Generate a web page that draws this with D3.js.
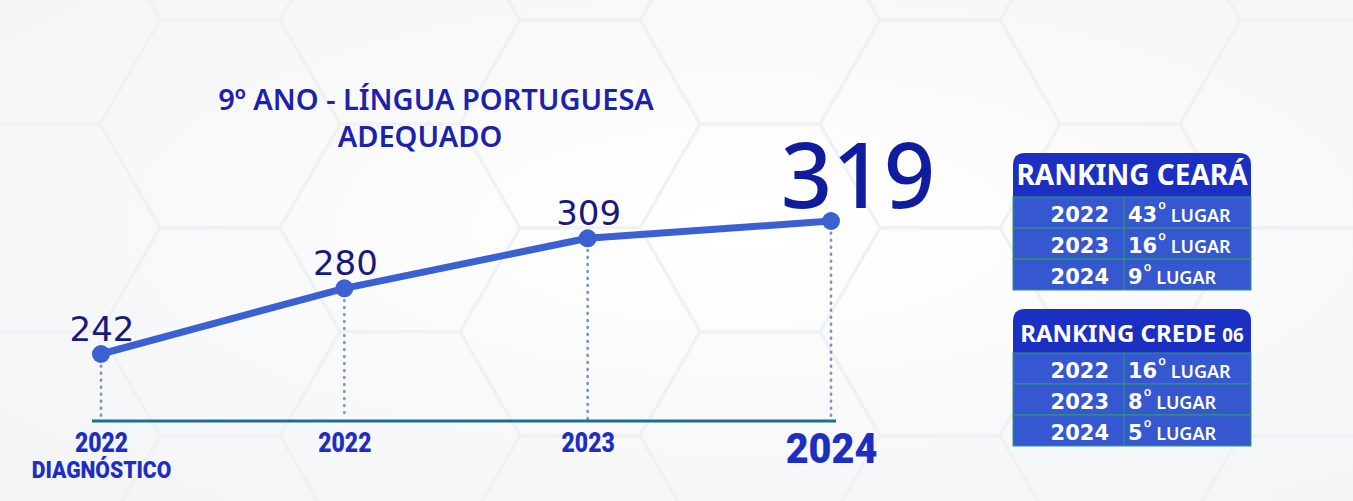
<!DOCTYPE html>
<html><head><meta charset="utf-8">
<script src="https://cdn.jsdelivr.net/npm/d3@7"></script>
<style>html,body{margin:0;padding:0;background:#f8f8f9;} svg{display:block}</style>
</head><body><svg id="c" width="1353" height="501"></svg>
<script>
// ---- data ----
const categories = ["2022 DIAGNÓSTICO", "2022", "2023", "2024"];
const values = [242, 280, 309, 319];
const tickYears = ["2022", "2022", "2023", "2024"];
const tickSub = ["DIAGNÓSTICO", "", "", ""];
const titleLines = ["9º ANO - LÍNGUA PORTUGUESA", "ADEQUADO"];
const rankYears = ["2022", "2023", "2024"];
const rankCeara = ["43", "16", "9"];
const rankCrede = ["16", "8", "5"];
const rankTitles = ["RANKING CEARÁ", "RANKING CREDE "];
const rankTitleSuffix = ["", "06"];

const W = 1353, H = 501;
const svg = d3.select("#c");

// ---- background ----
const defs = svg.append("defs");
const bg = defs.append("radialGradient").attr("id", "bg").attr("cx", "55%").attr("cy", "45%").attr("r", "75%");
bg.append("stop").attr("offset", "0%").attr("stop-color", "#ffffff");
bg.append("stop").attr("offset", "100%").attr("stop-color", "#f3f4f6");
svg.append("rect").attr("width", W).attr("height", H).attr("fill", "url(#bg)");

const hexR = 120, hexG = svg.append("g").attr("fill", "none").attr("stroke", "#f0f1f3").attr("stroke-width", 3);
const hexPts = d3.range(6).map(k => [hexR * Math.cos(Math.PI / 3 * k), hexR * Math.sin(Math.PI / 3 * k)]);
for (let col = -1; col < 9; col++) {
  for (let row = -1; row < 4; row++) {
    const cx = col * hexR * 1.5 + 40;
    const cy = row * hexR * Math.sqrt(3) + (col % 2 ? hexR * Math.sqrt(3) / 2 : 0) + 20;
    hexG.append("polygon").attr("points", hexPts.map(p => [p[0] + cx, p[1] + cy].join(",")).join(" "));
  }
}

// ---- scales ----
const x = d3.scalePoint().domain(categories).range([101, 831]);
const y = d3.scaleLinear().domain([242, 319]).range([354, 221]);
const axisY = 421;
const last = categories.length - 1;

// ---- title ----
svg.append("g").selectAll("text").data(titleLines).join("text")
  .attr("x", (d, i) => i ? 420 : 436).attr("y", (d, i) => 110 + i * 37)
  .attr("text-anchor", "middle").attr("font-family", "Noto Sans").attr("font-weight", 600)
  .attr("font-size", 29).attr("fill", "#1d22ad").text(d => d);

// ---- dotted guides ----
svg.append("g").selectAll("line").data(values).join("line")
  .attr("x1", (d, i) => x(categories[i])).attr("x2", (d, i) => x(categories[i]))
  .attr("y1", d => y(d) + 12).attr("y2", axisY - 2)
  .attr("stroke", "#7f90cc").attr("stroke-width", 2.8).attr("stroke-linecap", "round")
  .attr("stroke-dasharray", "0.5,6.5");

// ---- axis ----
const axisG = svg.append("g").attr("transform", `translate(0,${axisY})`)
  .call(d3.axisBottom(x).tickSize(0).tickPadding(12).tickFormat((d, i) => tickYears[i]));
axisG.select(".domain").remove();
axisG.insert("line", ":first-child")
  .attr("x1", x.range()[0] - 9).attr("x2", x.range()[1] + 5)
  .attr("stroke", "#1e6f8c").attr("stroke-width", 3);
axisG.selectAll(".tick text")
  .attr("font-family", "Roboto, sans-serif")
  .attr("font-weight", 900)
  .attr("font-size", (d, i) => i === last ? 43 : 27)
  .attr("y", (d, i) => i === last ? 11 : 12)
  .attr("transform", (d, i) => `scale(${i === last ? 0.92 : 0.85},1)`)
  .attr("fill", "#1d2fc2");
axisG.selectAll(".tick").append("text")
  .attr("y", 57).attr("text-anchor", "middle")
  .attr("font-family", "Roboto, sans-serif")
  .attr("font-weight", 900).attr("font-size", 24).attr("fill", "#1d2fc2")
  .attr("transform", "scale(0.88,1)")
  .text((d, i) => tickSub[i]);

// ---- line & points ----
const line = d3.line().x((d, i) => x(categories[i])).y(d => y(d));
svg.append("path").datum(values).attr("d", line).attr("fill", "none")
  .attr("stroke", "#3a60d2").attr("stroke-width", 7).attr("stroke-linejoin", "round");
svg.append("g").selectAll("circle").data(values).join("circle")
  .attr("cx", (d, i) => x(categories[i])).attr("cy", d => y(d)).attr("r", 9).attr("fill", "#3a60d2");

// ---- value labels ----
svg.append("g").selectAll("text").data(values).join("text")
  .attr("x", (d, i) => x(categories[i]) + (i === last ? 27 : 1))
  .attr("y", d => y(d) - 13)
  .attr("text-anchor", "middle")
  .attr("font-family", (d, i) => i === last ? "Noto Sans" : "DejaVu Sans")
  .attr("font-weight", (d, i) => i === last ? 500 : 400)
  .attr("font-size", (d, i) => i === last ? 90 : 34)
  .attr("fill", (d, i) => i === last ? "#101b9e" : "#16197e")
  .text(d => d);

// ---- ranking tables ----
function table(ty, title, suffix, ranks, hs, hy) {
  const tx = 1013, tw = 238, hh = 44, rh = 31, cw = 111, rr = 12;
  const g = svg.append("g");
  g.append("path").attr("d",
    `M${tx},${ty + hh} V${ty + rr} Q${tx},${ty} ${tx + rr},${ty} H${tx + tw - rr} Q${tx + tw},${ty} ${tx + tw},${ty + rr} V${ty + hh} Z`)
    .attr("fill", "#1b2fc2");
  const t = g.append("text").attr("x", tx + tw / 2).attr("y", ty + hy).attr("text-anchor", "middle")
    .attr("font-family", "Noto Sans").attr("font-weight", 700).attr("font-size", hs).attr("fill", "#ffffff");
  t.append("tspan").text(title);
  if (suffix) t.append("tspan").attr("font-size", hs * 0.78).text(suffix);
  const rows = g.selectAll(".row").data(ranks).join("g").attr("class", "row")
    .attr("transform", (d, i) => `translate(${tx},${ty + hh + i * rh})`);
  rows.append("rect").attr("width", tw).attr("height", rh).attr("fill", "#3557cf")
    .attr("stroke", "#2f9a70").attr("stroke-width", 1);
  rows.append("line").attr("x1", cw).attr("x2", cw).attr("y2", rh).attr("stroke", "#2f9a70").attr("stroke-width", 1);
  rows.append("text").attr("x", cw - 15).attr("y", 25).attr("text-anchor", "end")
    .attr("font-family", "DejaVu Sans").attr("font-weight", "bold").attr("font-size", 21)
    .attr("fill", "#ffffff").text((d, i) => rankYears[i]);
  const rt = rows.append("text").attr("x", cw + 4).attr("y", 25).attr("fill", "#ffffff")
    .attr("font-family", "DejaVu Sans").attr("font-weight", "bold").attr("font-size", 21);
  rt.append("tspan").text(d => d);
  rt.append("tspan").attr("font-family", "Open Sans").attr("font-weight", 600).attr("font-size", 20)
    .attr("dx", 1).attr("dy", -5).text("º");
  rt.append("tspan").attr("font-family", "Noto Sans").attr("font-weight", 600).attr("font-size", 18)
    .attr("dx", 5).attr("dy", 5).text("LUGAR");
}
table(153, rankTitles[0], rankTitleSuffix[0], rankCeara, 28, 32);
table(309, rankTitles[1], rankTitleSuffix[1], rankCrede, 24, 33);
</script></body></html>
